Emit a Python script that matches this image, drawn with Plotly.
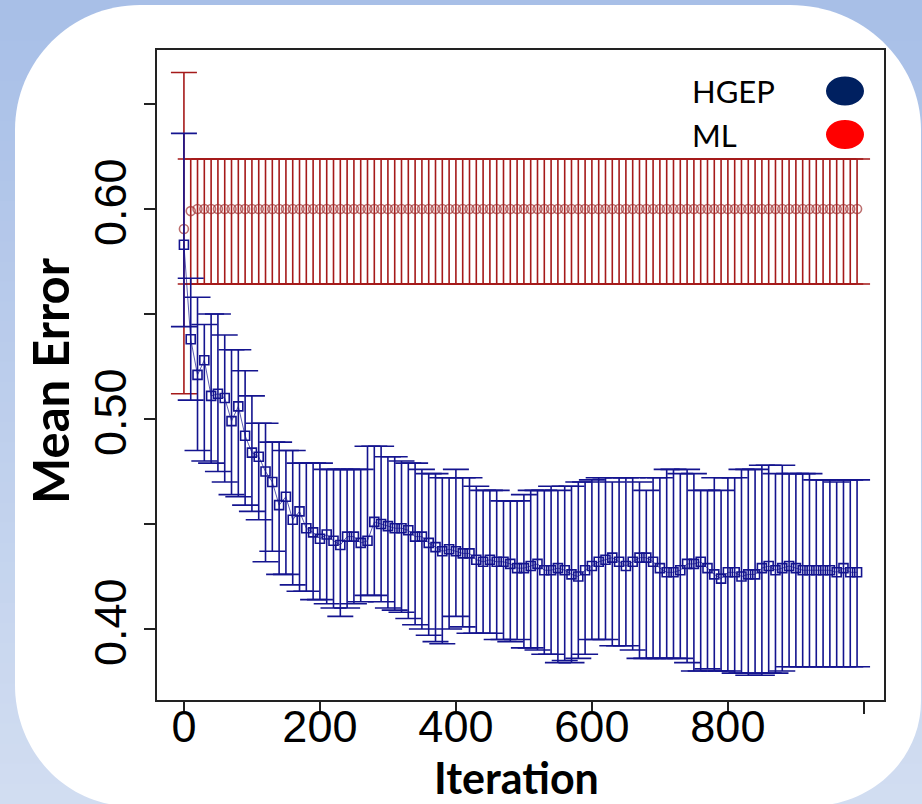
import plotly.graph_objects as go

# ---------------- data ----------------
iterations = list(range(0, 1000, 10))

hgep_mean = [
    0.583, 0.538, 0.521, 0.528, 0.511, 0.512, 0.510, 0.499, 0.506, 0.492,
    0.484, 0.482, 0.475, 0.470, 0.459, 0.463, 0.452, 0.456, 0.448, 0.446,
    0.443, 0.445, 0.442, 0.440, 0.444, 0.444, 0.441, 0.442, 0.451, 0.450,
    0.449, 0.448, 0.448, 0.447, 0.444, 0.444, 0.441, 0.439, 0.437, 0.438,
    0.437, 0.436, 0.436, 0.433, 0.432, 0.433, 0.432, 0.432, 0.431, 0.429,
    0.429, 0.430, 0.431, 0.428, 0.428, 0.429, 0.428, 0.426, 0.425, 0.428,
    0.430, 0.432, 0.433, 0.434, 0.432, 0.430, 0.432, 0.434, 0.434, 0.432,
    0.429, 0.427, 0.427, 0.428, 0.431, 0.431, 0.432, 0.429, 0.426, 0.424,
    0.427, 0.427, 0.425, 0.426, 0.426, 0.429, 0.430, 0.428, 0.429, 0.430,
    0.429, 0.428, 0.428, 0.428, 0.428, 0.428, 0.427, 0.429, 0.427, 0.427,
]

hgep_upper = [
    0.636, 0.567, 0.558, 0.545, 0.550, 0.550, 0.540, 0.533, 0.533, 0.523,
    0.511, 0.498, 0.498, 0.489, 0.489, 0.485, 0.485, 0.479, 0.479, 0.479,
    0.479, 0.476, 0.476, 0.476, 0.476, 0.476, 0.476, 0.487, 0.487, 0.487,
    0.482, 0.482, 0.480, 0.479, 0.479, 0.476, 0.474, 0.474, 0.472, 0.472,
    0.476, 0.472, 0.472, 0.468, 0.466, 0.466, 0.466, 0.461, 0.461, 0.461,
    0.464, 0.466, 0.466, 0.466, 0.468, 0.466, 0.468, 0.468, 0.470, 0.470,
    0.471, 0.472, 0.472, 0.470, 0.472, 0.472, 0.472, 0.470, 0.466, 0.472,
    0.472, 0.476, 0.476, 0.474, 0.476, 0.474, 0.466, 0.466, 0.472, 0.466,
    0.472, 0.472, 0.476, 0.476, 0.476, 0.478, 0.478, 0.474, 0.478, 0.474,
    0.474, 0.474, 0.474, 0.471, 0.471, 0.471, 0.470, 0.471, 0.471, 0.471,
]

hgep_lower = [
    0.544, 0.509, 0.485, 0.480, 0.479, 0.475, 0.470, 0.464, 0.463, 0.459,
    0.456, 0.452, 0.432, 0.437, 0.426, 0.426, 0.421, 0.418, 0.418, 0.414,
    0.414, 0.412, 0.410, 0.406, 0.410, 0.412, 0.413, 0.416, 0.416, 0.413,
    0.410, 0.409, 0.408, 0.405, 0.402, 0.400, 0.397, 0.394, 0.393, 0.400,
    0.406, 0.401, 0.398, 0.398, 0.398, 0.398, 0.395, 0.395, 0.394, 0.395,
    0.391, 0.391, 0.390, 0.388, 0.388, 0.384, 0.385, 0.384, 0.386, 0.388,
    0.395, 0.395, 0.395, 0.392, 0.392, 0.392, 0.390, 0.386, 0.386, 0.386,
    0.386, 0.386, 0.386, 0.386, 0.384, 0.380, 0.380, 0.381, 0.380, 0.380,
    0.380, 0.379, 0.379, 0.378, 0.379, 0.378, 0.379, 0.379, 0.380, 0.382,
    0.382, 0.382, 0.382, 0.382, 0.382, 0.382, 0.382, 0.382, 0.382, 0.382,
]

ml_mean = [0.5905, 0.599] + [0.600] * 98
ml_upper = [0.665] + [0.6238] * 99
ml_lower = [0.512] + [0.5643] * 99

x_tickvals = [0, 200, 400, 600, 800, 1000]
x_ticktext = ["0", "200", "400", "600", "800", ""]
y_tickvals = [0.40, 0.45, 0.50, 0.55, 0.60, 0.65]
y_ticktext = ["0.40", "", "0.50", "", "0.60", ""]

legend_names = ["HGEP", "ML"]
legend_colors = ["#002060", "#FF0000"]

# ---------------- layout geometry (pixels) ----------------
W, H = 922, 804
PL, PR, PT, PB = 157, 884, 50, 700   # plot box
PW, PH = PR - PL, PB - PT


def px(x):
    return (x - PL) / PW


def py(y):
    return (PB - y) / PH


BLUE = "#14148f"
RED = "#a51a1a"

fig = go.Figure()

fig.add_trace(go.Scatter(
    x=iterations, y=ml_mean, mode="markers", name="ML",
    marker=dict(symbol="circle-open", size=9, color="rgba(160,50,50,0.7)",
                line=dict(width=1.6)),
    error_y=dict(type="data", symmetric=False,
                 array=[u - m for u, m in zip(ml_upper, ml_mean)],
                 arrayminus=[m - l for m, l in zip(ml_mean, ml_lower)],
                 color=RED, thickness=1.6, width=13),
    showlegend=False,
))

fig.add_trace(go.Scatter(
    x=iterations, y=hgep_mean, mode="lines+markers", name="HGEP",
    line=dict(color=BLUE, width=0.7),
    marker=dict(symbol="square-open", size=9, color=BLUE, line=dict(width=1.6)),
    error_y=dict(type="data", symmetric=False,
                 array=[u - m for u, m in zip(hgep_upper, hgep_mean)],
                 arrayminus=[m - l for m, l in zip(hgep_mean, hgep_lower)],
                 color=BLUE, thickness=1.6, width=13),
    showlegend=False,
))

shapes = []
# background vertical gradient
top_c = (168, 191, 231)
bot_c = (209, 221, 241)
nb = 40
for i in range(nb):
    t = i / (nb - 1)
    c = tuple(round(a + (b - a) * t) for a, b in zip(top_c, bot_c))
    y0 = H * i / nb
    y1 = H * (i + 1) / nb + 1
    shapes.append(dict(type="rect", xref="paper", yref="paper",
                       x0=px(-2), x1=px(W + 2), y0=py(y0), y1=py(y1),
                       fillcolor="rgb(%d,%d,%d)" % c, line=dict(width=0),
                       layer="below"))

# white rounded panel
L, R, T, B = 15, 921, 5, 806
k = 0.5523
tl = (125, 125)
tr = (131, 125)
br = (110, 105)
bl = (115, 121)


def P(x, y):
    return "%.5f,%.5f" % (px(x), py(y))


path = "M " + P(L + tl[0], T)
path += " L " + P(R - tr[0], T)
path += " C " + P(R - tr[0] + k * tr[0], T) + " " + P(R, T + tr[1] - k * tr[1]) + " " + P(R, T + tr[1])
path += " L " + P(R, B - br[1])
path += " C " + P(R, B - br[1] + k * br[1]) + " " + P(R - br[0] + k * br[0], B) + " " + P(R - br[0], B)
path += " L " + P(L + bl[0], B)
path += " C " + P(L + bl[0] - k * bl[0], B) + " " + P(L, B - bl[1] + k * bl[1]) + " " + P(L, B - bl[1])
path += " L " + P(L, T + tl[1])
path += " C " + P(L, T + tl[1] - k * tl[1]) + " " + P(L + tl[0] - k * tl[0], T) + " " + P(L + tl[0], T)
path += " Z"
shapes.append(dict(type="path", xref="paper", yref="paper", path=path,
                   fillcolor="white", line=dict(width=0), layer="below"))

# legend ellipses
legend_y = [91, 134.5]
for c, ly in zip(legend_colors, legend_y):
    shapes.append(dict(type="circle", xref="paper", yref="paper",
                       x0=px(826), x1=px(864), y0=py(ly - 14.5), y1=py(ly + 14.5),
                       fillcolor=c, line=dict(width=0), layer="above"))

annotations = []
for name, ly in zip(legend_names, legend_y):
    annotations.append(dict(text=name, xref="paper", yref="paper",
                            x=px(690), y=py(ly), xanchor="left", yanchor="middle",
                            showarrow=False,
                            font=dict(family="Lato", size=31, color="black")))

annotations.append(dict(text="<b>Iteration</b>", xref="paper", yref="paper",
                        x=px(516), y=py(777), xanchor="center", yanchor="middle",
                        showarrow=False,
                        font=dict(family="Lato", size=43, color="black")))
annotations.append(dict(text="<b>Mean Error</b>", xref="paper", yref="paper",
                        x=px(50), y=py(381), xanchor="center", yanchor="middle",
                        textangle=-90, showarrow=False,
                        font=dict(family="Lato", size=49, color="black")))

fig.update_layout(
    width=W, height=H,
    margin=dict(l=PL, r=W - PR, t=PT, b=H - PB, pad=0),
    paper_bgcolor="rgb(190,205,236)",
    plot_bgcolor="white",
    shapes=shapes,
    annotations=annotations,
    showlegend=False,
)

fig.update_xaxes(
    range=[-39.6, 1029.6], tickvals=x_tickvals, ticktext=x_ticktext,
    showgrid=False, zeroline=False,
    showline=True, mirror=True, linecolor="#222", linewidth=1.6,
    ticks="outside", ticklen=12, tickwidth=1.6, tickcolor="#222",
    ticklabelstandoff=-26,
    tickfont=dict(family="Liberation Sans", size=45, color="black"),
)
fig.update_yaxes(
    range=[0.36620, 0.67571], tickvals=y_tickvals, ticktext=y_ticktext,
    showgrid=False, zeroline=False,
    showline=True, mirror=True, linecolor="#222", linewidth=1.6,
    ticks="outside", ticklen=11, tickwidth=1.6, tickcolor="#222",
    tickangle=-90,
    tickfont=dict(family="Liberation Sans", size=45, color="black"),
)

fig.write_html("out.html",
               config={"displayModeBar": False},
               post_script="document.body.style.margin='0';document.body.style.overflow='hidden';")
